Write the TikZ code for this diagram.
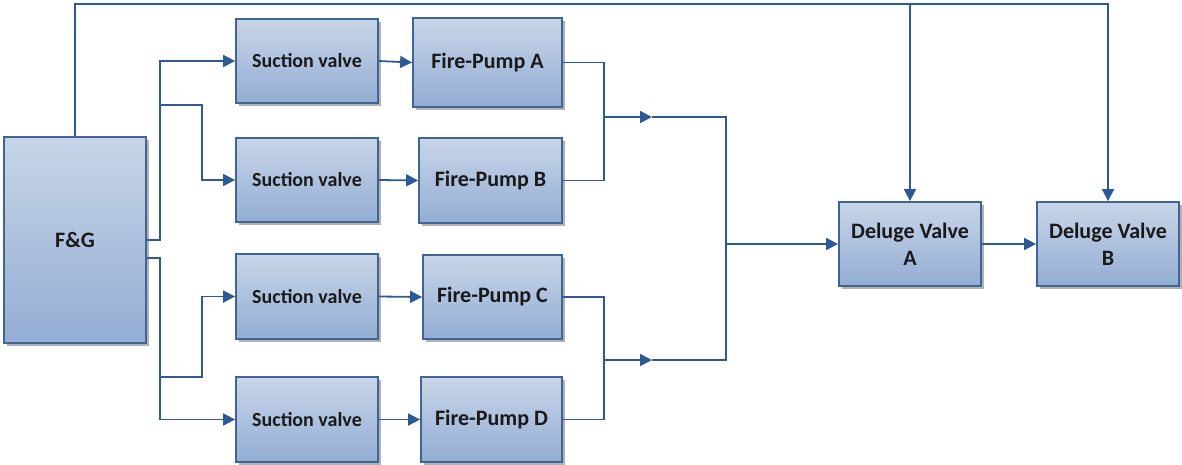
\documentclass[tikz,border=0pt]{standalone}
\usepackage{fontspec}
\setmainfont{Carlito}
\usetikzlibrary{arrows.meta,shadows}
\definecolor{boxtop}{HTML}{C8D5E8}
\definecolor{boxbot}{HTML}{93ADD3}
\definecolor{boxedge}{HTML}{3F6497}
\definecolor{wire}{HTML}{2D5A96}
\tikzset{
  blk/.style={rectangle, draw=boxedge, line width=1.8pt, top color=boxtop, bottom color=boxbot,
    drop shadow={shadow xshift=3pt, shadow yshift=-3pt, fill=black!30, opacity=1},
    font=\bfseries\fontsize{22}{27}\selectfont, text=black!90, align=center, inner sep=0pt},
  sblk/.style={blk, font=\bfseries\fontsize{20}{24}\selectfont},
  wireline/.style={draw=wire, line width=1.8pt},
  arr/.style={wireline, -{Triangle[length=12pt,width=12pt]}},
}
\begin{document}
\begin{tikzpicture}[x=1pt,y=-1pt]
\useasboundingbox (0,0) rectangle (1182,464);
\fill[white] (0,0) rectangle (1182,464);
% boxes
\node[blk, minimum width=142pt, minimum height=206pt] (FG) at (75,240) {F\&G};
\node[sblk, minimum width=142pt, minimum height=84pt] (S1) at (307,61) {Suction valve};
\node[sblk, minimum width=142pt, minimum height=84pt] (S2) at (307,180) {Suction valve};
\node[sblk, minimum width=142pt, minimum height=85pt] (S3) at (307,296.5) {Suction valve};
\node[sblk, minimum width=142pt, minimum height=85pt] (S4) at (307,419.5) {Suction valve};
\node[blk, minimum width=149pt, minimum height=89pt] (PA) at (487.5,62.5) {Fire-Pump A};
\node[blk, minimum width=143pt, minimum height=85pt] (PB) at (490.5,180.5) {Fire-Pump B};
\node[blk, minimum width=139pt, minimum height=84pt] (PC) at (492.5,297) {Fire-Pump C};
\node[blk, minimum width=141pt, minimum height=85pt] (PD) at (491.5,419.5) {Fire-Pump D};
\node[blk, minimum width=142pt, minimum height=84pt] (DA) at (910,244) {Deluge Valve\\A};
\node[blk, minimum width=142pt, minimum height=84pt] (DB) at (1108,244) {Deluge Valve\\B};
% junction points
\coordinate (fgu) at (FG.east);
\coordinate (fgl) at ([yshift=-18pt]FG.east);
\coordinate (top) at (75,4);
\coordinate (jab) at (604,117);
\coordinate (jcd) at (604,360);
\coordinate (mab) at (652,117);
\coordinate (mcd) at (652,360);
% F&G to suction valves
\draw[arr] (fgu) -- (160,240) |- (S1.west);
\draw[arr] (160,105) -- (202,105) |- (S2.west);
\draw[arr] (fgl) -- (160,258) |- (S4.west);
\draw[arr] (160,377) -- (202,377) |- (S3.west);
% suction valves to pumps
\draw[arr] (S1.east) -- (PA.west);
\draw[arr] (S2.east) -- (PB.west);
\draw[arr] (S3.east) -- (PC.west);
\draw[arr] (S4.east) -- (PD.west);
% pumps to collector
\draw[wireline] (PA.east) -| (jab) |- (PB.east);
\draw[wireline] (PC.east) -| (jcd) |- (PD.east);
\draw[arr] (jab) -- (mab);
\draw[arr] (jcd) -- (mcd);
\draw[wireline] (mab) -- (726,117) -- (726,360) -- (mcd);
\draw[arr] (726,244) -- (DA.west);
\draw[arr] (DA.east) -- (DB.west);
% top signal line
\draw[arr] (FG.north) -- (top) -| (DB.north);
\draw[arr] (DA.north |- top) -- (DA.north);
\end{tikzpicture}
\end{document}
